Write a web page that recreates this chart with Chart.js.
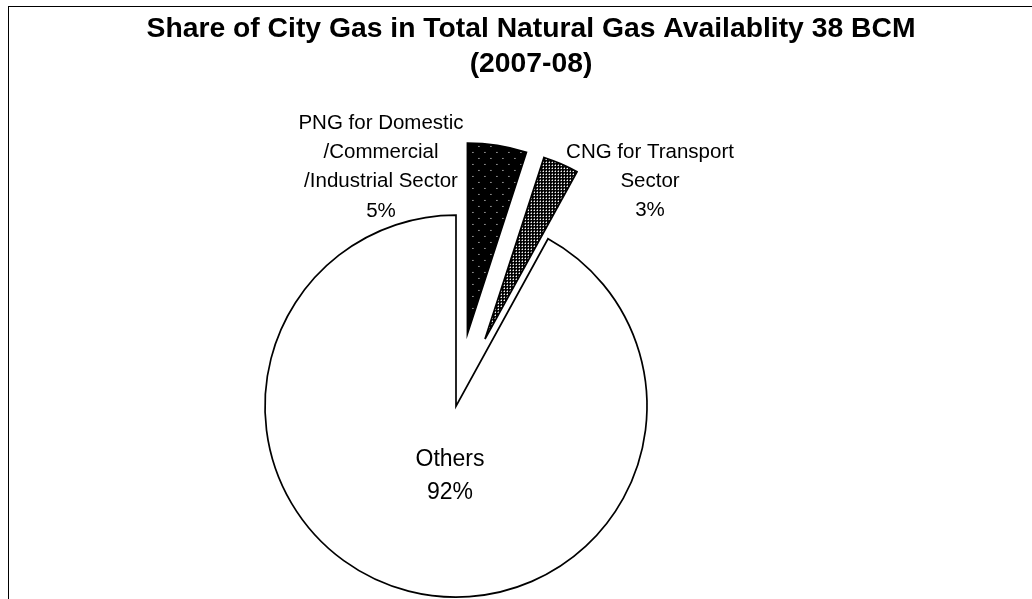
<!DOCTYPE html>
<html>
<head>
<meta charset="utf-8">
<script src="https://cdn.jsdelivr.net/npm/chart.js@4.4.1/dist/chart.umd.min.js"></script>
<style>
  html, body { margin: 0; padding: 0; background: #fff; overflow: hidden; }
  #frame { position: absolute; left: 8px; top: 6px; width: 1100px; height: 800px;
           border-left: 1px solid #000; border-top: 1px solid #000; }
  #c { position: absolute; left: 0; top: 0; }
</style>
</head>
<body>
<div id="frame"></div>
<canvas id="c" width="1062" height="730"></canvas>
<script>
const titleLines = ["Share of City Gas in Total Natural Gas Availablity 38 BCM", "(2007-08)"];
const categories = [
  ["PNG for Domestic", "/Commercial", "/Industrial Sector"],
  ["CNG for Transport", "Sector"],
  ["Others"]
];
const shares = [5, 3, 92];

// how far each slice is pulled out of the pie (px)
const explode = [73, 73, 0];
// label placement relative to the pie centre, and font size
const labelOffsets = [[-75, -283], [194, -254], [-6, 54]];
const labelSizes = [20.5, 20.5, 23];
const pieShift = -75; // pie sits left of the title centre
const FONT = '"Liberation Sans", Arial, sans-serif';

const canvas = document.getElementById("c");
const ctx = canvas.getContext("2d");

function dotPattern(size, dots, grey) {
  const tile = document.createElement("canvas");
  tile.width = size;
  tile.height = size;
  const g = tile.getContext("2d");
  g.fillStyle = "#000";
  g.fillRect(0, 0, size, size);
  g.fillStyle = "#fff";
  dots.forEach(([x, y]) => g.fillRect(x, y, 1, 1));
  if (grey) {
    g.fillStyle = "#777";
    grey.forEach(([x, y]) => g.fillRect(x, y, 1, 1));
  }
  return ctx.createPattern(tile, "repeat");
}

const pngFill = dotPattern(12, [[2, 2], [8, 8]]);
const cngFill = dotPattern(3, [[1, 1]], [[0, 1], [1, 0]]);

// draw arcs pulled out along their middle angle
const explodePlugin = {
  id: "explode",
  beforeDatasetDraw(chart, args) {
    const c = chart.ctx;
    args.meta.data.forEach((arc, i) => {
      const mid = (arc.startAngle + arc.endAngle) / 2;
      const d = explode[i] || 0;
      c.save();
      c.translate(pieShift + Math.cos(mid) * d, Math.sin(mid) * d);
      arc.draw(c);
      c.restore();
    });
    return false;
  }
};

const labelPlugin = {
  id: "sliceLabels",
  afterDatasetsDraw(chart) {
    const c = chart.ctx;
    const arcs = chart.getDatasetMeta(0).data;
    const total = shares.reduce((a, b) => a + b, 0);
    c.save();
    c.fillStyle = "#000";
    c.textAlign = "center";
    c.textBaseline = "middle";
    arcs.forEach((arc, i) => {
      const lines = categories[i].concat(Math.round(shares[i] / total * 100) + "%");
      const size = labelSizes[i];
      c.font = size + "px " + FONT;
      lines.forEach((t, k) => {
        c.fillText(t, arc.x + pieShift + labelOffsets[i][0], arc.y + labelOffsets[i][1] + k * size * 1.43);
      });
    });
    c.restore();
  }
};

new Chart(canvas, {
  type: "pie",
  data: {
    labels: categories.map(l => l.join(" ")),
    datasets: [{
      data: shares,
      backgroundColor: [pngFill, cngFill, "#fff"],
      borderColor: "#000",
      borderWidth: 1.7,
      borderJoinStyle: "miter"
    }]
  },
  options: {
    responsive: false,
    animation: false,
    events: [],
    radius: 191,
    layout: { padding: 0 },
    plugins: {
      legend: { display: false },
      tooltip: { enabled: false },
      title: {
        display: true,
        text: titleLines,
        color: "#000",
        font: { family: FONT, size: 28.3, weight: "bold", lineHeight: 1.24 },
        padding: { top: 12, bottom: 0 }
      }
    }
  },
  plugins: [explodePlugin, labelPlugin]
});
</script>
</body>
</html>
